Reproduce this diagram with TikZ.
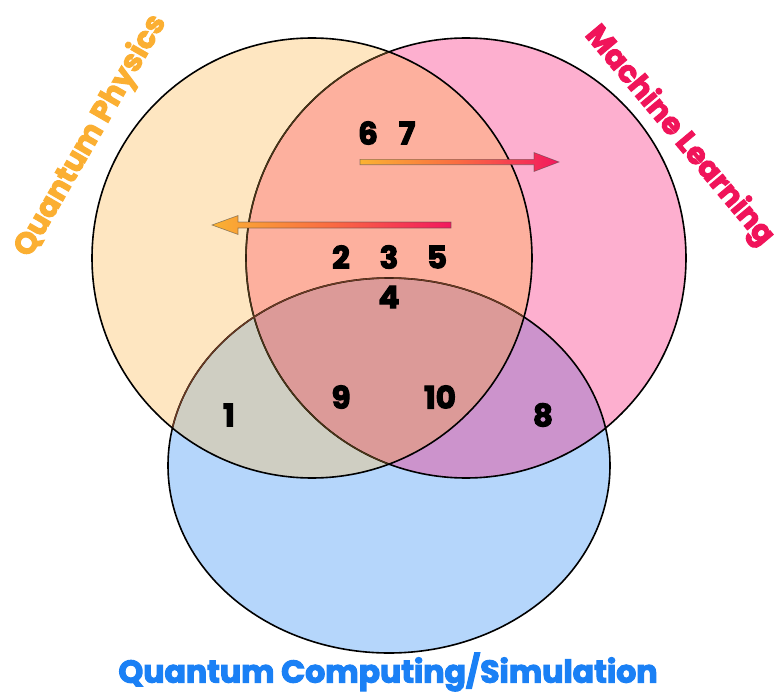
\documentclass[tikz,border=0pt]{standalone}
\usepackage{fontspec}
\setmainfont{Poppins}[BoldFeatures={FakeBold=3.5}]
\begin{document}
\begin{tikzpicture}[x=1pt,y=-1pt,
  num/.style={font=\fontsize{31}{31}\selectfont\bfseries, inner sep=0pt, text=black},
  setlabel/.style={font=\fontsize{30}{30}\selectfont\bfseries, inner sep=0pt},
  arrowshape/.style={draw=black!70, draw opacity=0.6, line width=0.6pt}]
\definecolor{cO}{HTML}{FEE6C1}
\definecolor{cP}{HTML}{FDAFCF}
\definecolor{cB}{HTML}{B5D6FB}
\definecolor{cOP}{HTML}{FDB09E}
\definecolor{cOB}{HTML}{CFCEC2}
\definecolor{cPB}{HTML}{CC93CC}
\definecolor{cOPB}{HTML}{DC9A98}
\definecolor{tO}{HTML}{FBAF32}
\definecolor{tP}{HTML}{F0145A}
\definecolor{tB}{HTML}{1A80F5}
\definecolor{gA}{HTML}{FAB232}
\definecolor{gM}{HTML}{FA6A42}
\definecolor{gZ}{HTML}{F2185E}
\definecolor{lnBr}{HTML}{4A3416}
\definecolor{lnBr2}{HTML}{6A3A22}
\useasboundingbox (0,0) rectangle (780,693);
\coordinate (cenO) at (312,258);
\coordinate (cenP) at (466,258);
\coordinate (cenB) at (389,465.5);
% region fills
\fill[cB] (cenB) ellipse [x radius=221pt, y radius=187.5pt];
\fill[cO] (cenO) circle [radius=220pt];
\fill[cP] (cenP) circle [radius=220pt];
\begin{scope}
  \clip (cenO) circle [radius=220pt];
  \fill[cOP] (cenP) circle [radius=220pt];
  \fill[cOB] (cenB) ellipse [x radius=221pt, y radius=187.5pt];
\end{scope}
\begin{scope}
  \clip (cenP) circle [radius=220pt];
  \fill[cPB] (cenB) ellipse [x radius=221pt, y radius=187.5pt];
  \clip (cenO) circle [radius=220pt];
  \fill[cOPB] (cenB) ellipse [x radius=221pt, y radius=187.5pt];
\end{scope}
% outlines
\draw[line width=1.6pt] (cenO) circle [radius=220pt];
\draw[line width=1.6pt] (cenP) circle [radius=220pt];
\draw[line width=1.6pt] (cenB) ellipse [x radius=221pt, y radius=187.5pt];
\begin{scope}
  \clip (cenO) circle [radius=219pt];
  \draw[line width=1.4pt, lnBr] (cenP) circle [radius=220pt];
  \draw[line width=1.4pt, lnBr2] (cenB) ellipse [x radius=221pt, y radius=187.5pt];
\end{scope}
% arrows
\coordinate (a1s) at (360,162);
\coordinate (a1t) at (559,162);
\shadedraw[arrowshape, left color=gA, right color=gZ, middle color=gM]
  (360,159.3) -- (534,159.3) -- (534,152.5) -- (a1t) -- (534,171.5) -- (534,164.7) -- (360,164.7) -- cycle;
\coordinate (a2s) at (451,225);
\coordinate (a2t) at (212,225);
\shadedraw[arrowshape, left color=gA, right color=gZ, middle color=gM]
  (451,222) -- (238,222) -- (238,215.5) -- (a2t) -- (238,234.5) -- (238,228) -- (451,228) -- cycle;
% numbers
\node[num] (n6) at (368,133) {6};
\node[num] (n7) at (407,133) {7};
\node[num] (n2) at (341,257) {2};
\node[num] (n3) at (389,257) {3};
\node[num] (n5) at (437,257) {5};
\node[num] (n4) at (389,297) {4};
\node[num] (n1) at (229,415) {1};
\node[num] (n9) at (341,397) {9};
\node[num] (n10) at (440,397) {10};
\node[num] (n8) at (543,415) {8};
% labels
\node[setlabel, text=tO, rotate=60] (lQP) at (91,136) {Quantum Physics};
\node[setlabel, text=tP, rotate=-50] (lML) at (679,136) {Machine Learning};
\node[setlabel, font=\fontsize{31.5}{31.5}\selectfont\bfseries, text=tB] (lQC) at (388,672) {Quantum Computing/Simulation};
\end{tikzpicture}
\end{document}
